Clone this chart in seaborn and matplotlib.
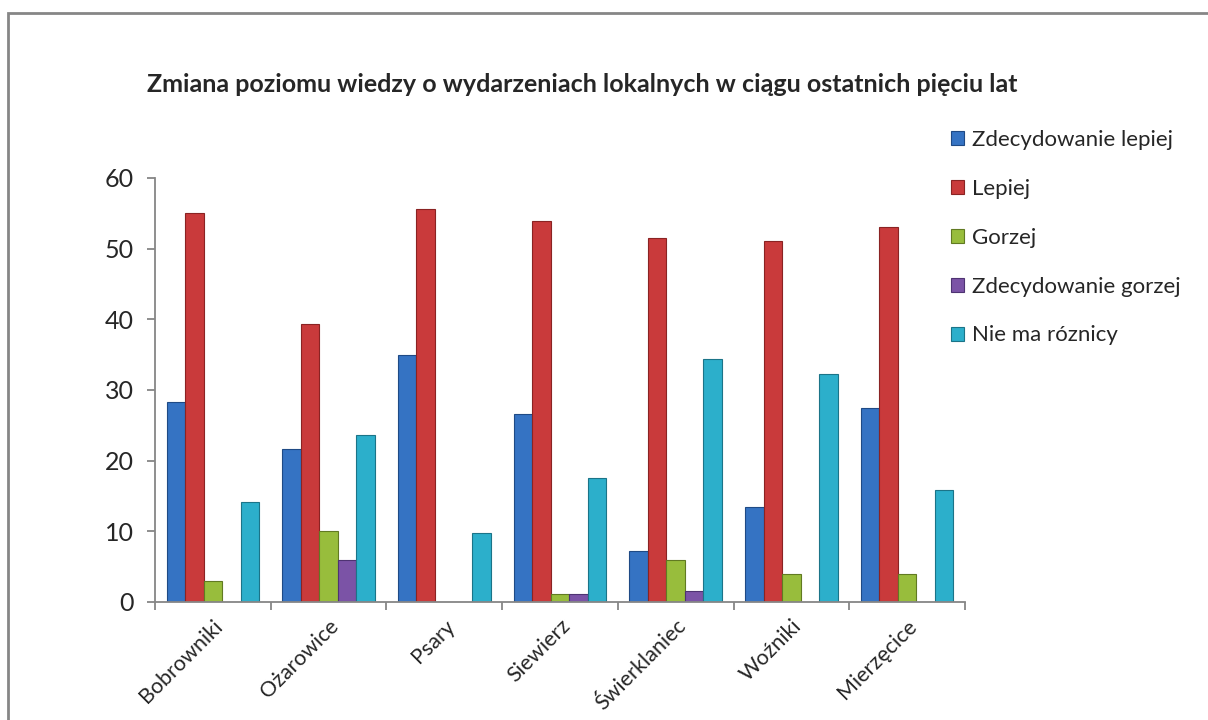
import pandas as pd
import numpy as np
import matplotlib
matplotlib.use("Agg")
import matplotlib.pyplot as plt
import seaborn as sns
from matplotlib.patches import Rectangle

sns.set_style("white")
plt.rcParams['font.family'] = ['Lato', 'DejaVu Sans']

# data
gminy = ["Bobrowniki", "Ożarowice", "Psary", "Siewierz", "Świerklaniec", "Woźniki", "Mierzęcice"]
series = ["Zdecydowanie lepiej", "Lepiej", "Gorzej", "Zdecydowanie gorzej", "Nie ma róznicy"]
zdec_lepiej = [28.3, 21.6, 34.9, 26.6, 7.2, 13.4, 27.5]
lepiej = [55.0, 39.3, 55.6, 53.9, 51.5, 51.1, 53.1]
gorzej = [3.0, 10.0, 0.0, 1.2, 5.9, 3.9, 4.0]
zdec_gorzej = [0.0, 6.0, 0.0, 1.2, 1.5, 0.0, 0.0]
bez_zmian = [14.1, 23.7, 9.7, 17.6, 34.4, 32.2, 15.8]

colors = ["#3573c3", "#c93a3b", "#98bd3c", "#7b53a6", "#2cafcb"]
edges = ["#1f4a85", "#8a2323", "#617a22", "#4e3372", "#1b7488"]

rows = []
for s, vals in zip(series, [zdec_lepiej, lepiej, gorzej, zdec_gorzej, bez_zmian]):
    for g, v in zip(gminy, vals):
        rows.append({"Gmina": g, "Odpowiedz": s, "Procent": v})
df = pd.DataFrame(rows)

fig = plt.figure(figsize=(12.08, 7.2), dpi=100)
ax = fig.add_axes([0.1283, 0.1639, 0.6705, 0.5889])

sns.barplot(data=df, x="Gmina", y="Procent", hue="Odpowiedz",
            order=gminy, hue_order=series, palette=colors,
            saturation=1, width=0.8, ax=ax, legend=False)

# darker outline per series, like the bevelled office bars
for cont, ec in zip(ax.containers, edges):
    for bar in cont:
        bar.set_edgecolor(ec)
        bar.set_linewidth(0.8)

ax.set_ylim(0, 60)
ax.set_xlim(-0.5, len(gminy) - 0.5)
ax.set_yticks(range(0, 61, 10))
ax.set_xlabel("")
ax.set_ylabel("")
for side in ["top", "right"]:
    ax.spines[side].set_visible(False)
for side in ["left", "bottom"]:
    ax.spines[side].set_color("#868686")
    ax.spines[side].set_linewidth(1.3)

ax.tick_params(axis="y", labelsize=18, length=6, width=1.3, color="#868686",
               direction="out", left=True, pad=9)
ax.tick_params(axis="x", which="major", length=0, labelsize=15.5, pad=10)
ax.set_xticks(np.arange(-0.5, len(gminy), 1.0), minor=True)
ax.tick_params(axis="x", which="minor", length=6, width=1.3, color="#868686",
               direction="out", bottom=True)
for lbl in ax.get_xticklabels():
    lbl.set_rotation(45)
    lbl.set_ha("right")
    lbl.set_rotation_mode("anchor")

fig.text(0.482, 0.883, "Zmiana poziomu wiedzy o wydarzeniach lokalnych w ciągu ostatnich pięciu lat",
         ha="center", va="center", fontsize=18, fontweight="bold")

handles = [Rectangle((0, 0), 1, 1, facecolor=c, edgecolor=e, linewidth=0.8)
           for c, e in zip(colors, edges)]
fig.legend(handles, series, loc="upper left", bbox_to_anchor=(0.78, 0.832),
           frameon=False, fontsize=16, handlelength=0.6, handleheight=0.6,
           handletextpad=0.35, labelspacing=1.3, borderaxespad=0)

# grey frame of the chart area (runs off the right and bottom edge)
fig.patches.append(Rectangle((8 / 1208, -0.05), 1.2, 1 - 13 / 720 + 0.05,
                             transform=fig.transFigure, fill=False,
                             edgecolor="#868686", linewidth=2))

fig.savefig("out.png", dpi=100)
